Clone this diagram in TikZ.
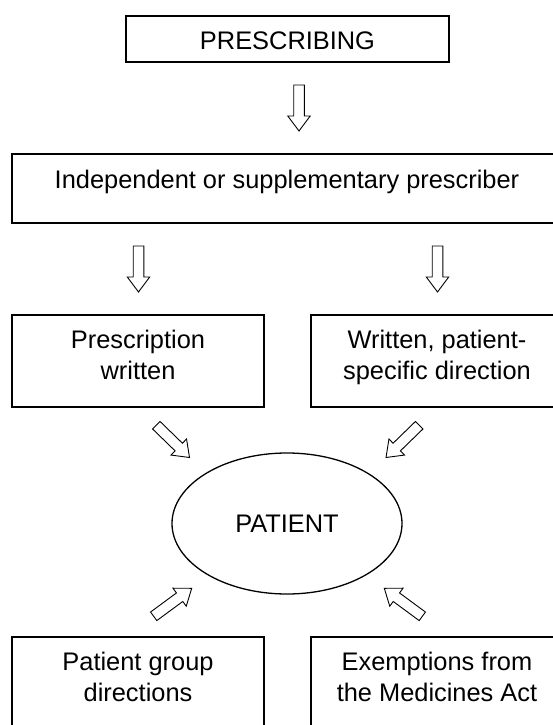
\documentclass[tikz,border=0pt]{standalone}
\usepackage{fontspec}
\setmainfont{Liberation Sans}
\usetikzlibrary{shapes.geometric,calc}
\tikzset{
  box/.style={draw, line width=1.3pt, rectangle, inner sep=0pt},
  lbl/.style={font=\fontsize{25.4}{31}\selectfont, align=center, inner sep=0pt, anchor=base},
  blockarrowstyle/.style={draw, fill=white, line width=0.9pt, line join=miter},
}
\newcommand\blockarrow[2]{%
  \path let \p1=($(#2)-(#1)$) in \pgfextra{\pgfmathsetmacro\tmpa{atan2(\y1,\x1)}\xdef\baang{\tmpa}\pgfmathsetmacro\tmpb{veclen(\x1,\y1)}\xdef\balen{\tmpb}};
  \draw[blockarrowstyle, shift={(#1)}, rotate=\baang]
    (0,-5.3) -- (\balen-15,-5.3) -- (\balen-15,-11.2) -- (\balen,0)
    -- (\balen-15,11.2) -- (\balen-15,5.3) -- (0,5.3) -- cycle;
}
\begin{document}
\begin{tikzpicture}[x=1pt,y=-1pt]
\useasboundingbox (0,0) rectangle (553,725);
\clip (0,0) rectangle (553,725);
% boxes
\node[box, minimum width=323pt, minimum height=46pt] (presc) at (287.5,39) {};
\node[lbl] (prescT) at (287.5,50) {PRESCRIBING};
\node[box, minimum width=551pt, minimum height=69pt] (indep) at (287.5,188.5) {};
\node[lbl] (indepT) at (287,188) {Independent or supplementary prescriber};
\node[box, minimum width=252pt, minimum height=92pt] (written) at (138,361) {};
\node[lbl] (writtenT) at (138,379) {Prescription\\written};
\node[box, minimum width=252pt, minimum height=92pt] (psd) at (437,361) {};
\node[lbl] (psdT) at (437,379) {Written, patient-\\specific direction};
\node[ellipse, draw, line width=1.3pt, inner sep=0pt, minimum width=230pt, minimum height=141pt,
      font=\fontsize{25.4}{31}\selectfont] (patient) at (287,523.5) {PATIENT};
\node[box, minimum width=252pt, minimum height=92pt] (pgd) at (138,683) {};
\node[lbl] (pgdT) at (138,701) {Patient group\\directions};
\node[box, minimum width=252pt, minimum height=92pt] (exempt) at (437,683) {};
\node[lbl] (exemptT) at (437,701) {Exemptions from\\the Medicines Act};
% arrow end points
\coordinate (a0s) at (299,85);    \coordinate (a0e) at (299,131);
\coordinate (a1s) at (138.5,246); \coordinate (a1e) at (138.5,292);
\coordinate (a2s) at (437.5,246); \coordinate (a2e) at (437.5,292);
\coordinate (a3s) at (156.3,425.2); \coordinate (a3e) at (189.5,457.5);
\coordinate (a4s) at (419.2,425.2); \coordinate (a4e) at (386,457.5);
\coordinate (a5s) at (153.7,616.3); \coordinate (a5e) at (191.7,588.3);
\coordinate (a6s) at (422.3,616.3); \coordinate (a6e) at (384.3,588.3);
\blockarrow{a0s}{a0e}
\blockarrow{a1s}{a1e}
\blockarrow{a2s}{a2e}
\blockarrow{a3s}{a3e}
\blockarrow{a4s}{a4e}
\blockarrow{a5s}{a5e}
\blockarrow{a6s}{a6e}
\end{tikzpicture}
\end{document}
